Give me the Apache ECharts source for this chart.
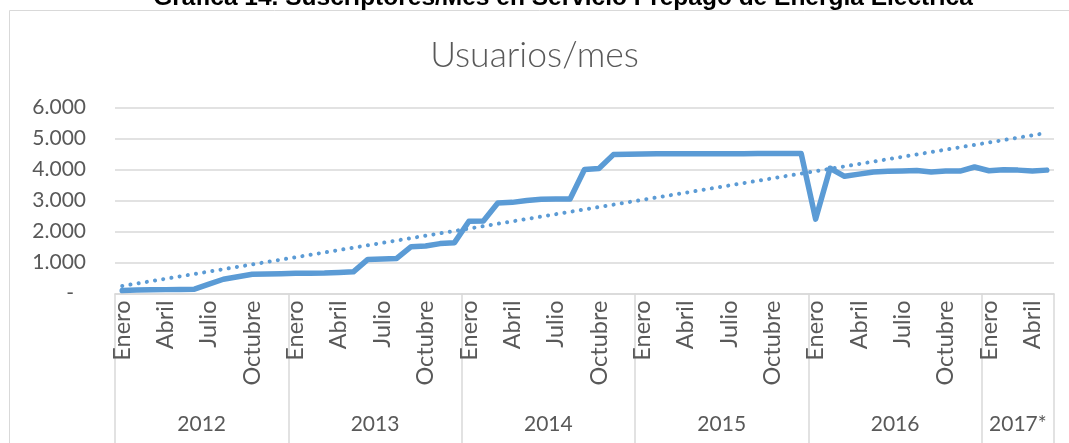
<!DOCTYPE html>
<html>
<head>
<meta charset="utf-8">
<script src="https://cdn.jsdelivr.net/npm/echarts@6/dist/echarts.min.js"></script>
<style>
  html, body { margin: 0; padding: 0; background: #fff; }
  #chart { width: 1069px; height: 443px; }
</style>
</head>
<body>
<div id="chart"></div>
<script>
const monthNames = ['Enero', 'Febrero', 'Marzo', 'Abril', 'Mayo', 'Junio', 'Julio', 'Agosto', 'Septiembre', 'Octubre', 'Noviembre', 'Diciembre'];
const years = ['2012', '2013', '2014', '2015', '2016', '2017*'];

// usuarios por mes
const users2012 = [95, 110, 120, 125, 130, 140, 300, 460, 540, 620, 630, 640];
const users2013 = [650, 655, 660, 680, 700, 1100, 1110, 1130, 1510, 1530, 1610, 1640];
const users2014 = [2330, 2340, 2920, 2940, 3000, 3040, 3050, 3050, 4000, 4030, 4480, 4490];
const users2015 = [4500, 4505, 4505, 4510, 4510, 4510, 4510, 4510, 4515, 4515, 4515, 4515];
const users2016 = [2400, 4040, 3780, 3850, 3920, 3940, 3950, 3970, 3920, 3950, 3950, 4080];
const users2017 = [3960, 3990, 3980, 3950, 3980];

const yTicks = [0, 1000, 2000, 3000, 4000, 5000, 6000];

const byYear = [users2012, users2013, users2014, users2015, users2016, users2017];
const monthCats = [];
const yearCats = [];
const users = [];
byYear.forEach((arr, y) => {
  arr.forEach((v, m) => {
    monthCats.push(monthNames[m]);
    yearCats.push(years[y]);
    users.push(v);
  });
});

// linear trend (least squares), like the excel trendline
const n = users.length;
let sx = 0, sy = 0, sxy = 0, sxx = 0;
users.forEach((v, i) => { sx += i; sy += v; sxy += i * v; sxx += i * i; });
const slope = (n * sxy - sx * sy) / (n * sxx - sx * sx);
const icpt = (sy - slope * sx) / n;
const trend = users.map((v, i) => +(icpt + slope * i).toFixed(1));

// where each year label goes (middle of its months)
const yearLabelAt = {};
let start = 0;
byYear.forEach((arr, y) => {
  const mid = start + (arr.length - 1) / 2;
  yearLabelAt[Math.floor(mid)] = { year: years[y], half: mid % 1 !== 0 };
  start += arr.length;
});

const fmt = v => String(v).replace(/\B(?=(\d{3})+(?!\d))/g, '.');
const gray = '#595959';
const lineCol = '#d9d9d9';
const blue = '#5b9bd5';
const font = 'Lato, "Open Sans", sans-serif';

const chart = echarts.init(document.getElementById('chart'));

const option = {
  animation: false,
  title: {
    text: 'Usuarios/mes',
    left: 'center',
    top: 33,
    textStyle: { color: gray, fontFamily: font, fontWeight: 300, fontSize: 35.5 }
  },
  graphic: [
    {
      type: 'rect',
      shape: { x: 9.5, y: 10.5, width: 1100, height: 500 },
      style: { fill: 'none', stroke: lineCol, lineWidth: 1 },
      silent: true
    },
    {
      type: 'text',
      x: 563,
      y: 11,
      style: {
        text: 'Gráfica 14. Suscriptores/Mes en Servicio Prepago de Energía Eléctrica',
        font: 'bold 24.5px "Liberation Sans", Arial, sans-serif',
        fill: '#000',
        align: 'center',
        verticalAlign: 'bottom'
      }
    }
  ],
  grid: { left: 115, right: 15, top: 107.5, bottom: 149.5 },
  xAxis: [
    {
      type: 'category',
      data: monthCats,
      boundaryGap: true,
      axisLine: { lineStyle: { color: lineCol, width: 1.5 } },
      axisTick: { show: false },
      axisLabel: {
        interval: i => i % 3 === 0,
        rotate: 90,
        margin: 7,
        color: gray,
        fontFamily: font,
        fontSize: 23.5
      }
    },
    {
      type: 'category',
      data: yearCats,
      position: 'bottom',
      boundaryGap: true,
      axisLine: { show: false },
      axisTick: { show: false },
      axisLabel: {
        interval: i => !!yearLabelAt[i],
        margin: 120,
        color: gray,
        fontFamily: font,
        fontSize: 21,
        formatter: (v, i) => yearLabelAt[i] && yearLabelAt[i].half ? '{h|' + v + '}' : v,
        rich: {
          h: { color: gray, fontFamily: font, fontSize: 21, padding: [0, 0, 0, 14.4] }
        }
      }
    },
    {
      // year dividers
      type: 'value',
      position: 'bottom',
      min: 0,
      max: n,
      interval: 12,
      axisLine: { show: false },
      axisLabel: { show: false },
      splitLine: { show: false },
      axisTick: { show: true, length: 150, lineStyle: { color: lineCol, width: 1.5 } }
    }
  ],
  yAxis: {
    type: 'value',
    min: yTicks[0],
    max: yTicks[yTicks.length - 1],
    interval: 1000,
    axisLine: { show: false },
    axisTick: { show: false },
    splitLine: { lineStyle: { color: lineCol, width: 1.5 } },
    axisLabel: {
      margin: 29,
      color: gray,
      fontFamily: font,
      fontSize: 21,
      formatter: v => v === 0 ? '{d|-}' : fmt(v),
      rich: { d: { color: gray, fontFamily: font, fontSize: 21, padding: [0, 12, 0, 0] } }
    }
  },
  series: [
    {
      name: 'Usuarios',
      type: 'line',
      data: users,
      showSymbol: false,
      lineStyle: { color: blue, width: 5.5, join: 'round', cap: 'round' },
      z: 3
    },
    {
      name: 'Tendencia',
      type: 'line',
      data: trend,
      showSymbol: false,
      lineStyle: { color: blue, width: 4, type: [0.1, 8.2], cap: 'round' },
      z: 2
    }
  ]
};

chart.setOption(option);
</script>
</body>
</html>
